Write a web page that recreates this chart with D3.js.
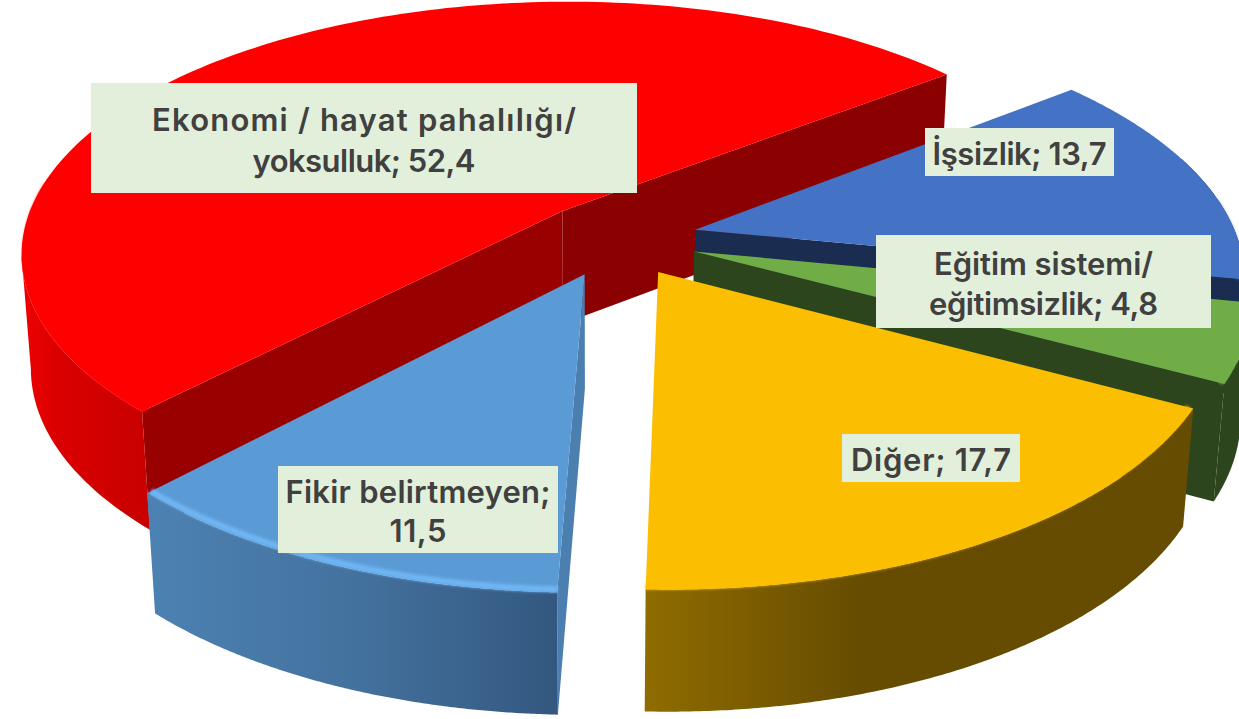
<!DOCTYPE html>
<html><head><meta charset="utf-8">
<script src="https://cdn.jsdelivr.net/npm/d3@7/dist/d3.min.js"></script>
<style>html,body{margin:0;padding:0;background:#fff;overflow:hidden}svg{display:block}</style>
</head><body><div id="chart"></div>
<script>
const categories = ["Ekonomi / hayat pahalılığı/ yoksulluk","İşsizlik","Eğitim sistemi/ eğitimsizlik","Diğer","Fikir belirtmeyen"];
const values = [52.4,13.7,4.8,17.7,11.5];
const valueLabels = ["52,4","13,7","4,8","17,7","11,5"];
const labelLines = [
  ["Ekonomi / hayat pahalılığı/","yoksulluk; 52,4"],
  ["İşsizlik; 13,7"],
  ["Eğitim sistemi/","eğitimsizlik; 4,8"],
  ["Diğer; 17,7"],
  ["Fikir belirtmeyen;","11,5"]
];
const W=1239,H=719;
// styles / layout
const topColors=["#FF0000","#4472C4","#70AD47","#FBBE00","#5B9BD5"];
const rimColors=["#FF0606","#4472C4","#70AD47","#FBBE00","#70B6F4"];
const startFace=["#990000",null,null,null,"#4A7FB0"];
const endFace=["#8B0000","#1A2C50","#2C451C",null,null];
const wallStops=[
 [[17,"#F00000"],[60,"#DA0000"],[150,"#C80000"]],
 [[700,"#1A2C50"],[1239,"#1A2C50"]],
 [[1190,"#2C451C"],[1239,"#2C451C"]],
 [[648,"#8F6C00"],[860,"#664C00"],[1195,"#664C00"]],
 [[147,"#4C82B2"],[350,"#44729F"],[558,"#33587F"]]
];
const boxes=[[91,83,637,193],[925,128,1114,176],[876,235,1211,328],[842,434,1020,482],[278,466,558,553]];
const baselines=[[131,172],[165],[275,315],[471],[503,542]];
const lineWidths=[[424,223],[174],[219,229],[160],[265,57]];

const explode=0.15, origin={x:0.025,y:-0.084}, startDeg=223.4, camX=603;
const depth=0.01622, vp=[595,7300];
const sxScale=d3.scaleLinear().domain([-1,1]).range([camX-550,camX+550]);
const w=Y=>1/(1-0.168*Y);
const syScale=d3.scaleLinear().domain([0,1]).range([-1285,260]);
function project(X,Y,z){
  const k=w(Y);
  const px=camX+(sxScale(X)-camX)*k, py=syScale(k);
  const t=z*Math.pow(k,0.6);
  return [px+(vp[0]-px)*t, py+(vp[1]-py)*t];
}
const pie=d3.pie().sort(null).startAngle(startDeg*Math.PI/180).endAngle((startDeg+360)*Math.PI/180);
const arcs=pie(values);
const line=d3.line();
const svg=d3.select("#chart").append("svg").attr("width",W).attr("height",H).attr("viewBox",`0 0 ${W} ${H}`);
const defs=svg.append("defs");
const f=defs.append("filter").attr("id","soft").attr("x","-5%").attr("y","-5%").attr("width","110%").attr("height","110%");
f.append("feGaussianBlur").attr("stdDeviation",1.8);
wallStops.forEach((st,i)=>{
  const g=defs.append("linearGradient").attr("id","wall"+i).attr("gradientUnits","userSpaceOnUse")
    .attr("x1",st[0][0]).attr("x2",st[st.length-1][0]).attr("y1",0).attr("y2",0);
  st.forEach(s=>g.append("stop").attr("offset",(s[0]-st[0][0])/(st[st.length-1][0]-st[0][0])).attr("stop-color",s[1]));
});
const order=[0,1,2,4,3];
order.forEach(i=>{
  const a=arcs[i], mid=(a.startAngle+a.endAngle)/2;
  const cx=origin.x+explode*Math.sin(mid), cy=origin.y-explode*Math.cos(mid);
  const pt=(ang,r,z)=>project(cx+r*Math.sin(ang),cy-r*Math.cos(ang),z);
  const angs=d3.range(0,161).map(t=>a.startAngle+(a.endAngle-a.startAngle)*t/160);
  const g=svg.append("g").attr("class","slice").attr("data-cat",categories[i]).attr("data-val",valueLabels[i]);
  const topArc=angs.map(t=>pt(t,1,0));
  let front=angs.filter(t=>Math.cos(t)<0.3);
  const iMin=d3.leastIndex(front,(p,q)=>pt(p,1,0)[0]-pt(q,1,0)[0]);
  const iMax=d3.greatestIndex(front,t=>pt(t,1,0)[0]);
  front=front.slice(Math.min(iMin,iMax),Math.max(iMin,iMax)+1);
  const wallTop=front.map(t=>pt(t,1,0)), wallBot=front.map(t=>pt(t,1,depth));
  const face=(ang,c)=>{ if(c) g.append("path").attr("d",line([pt(0,0,0),pt(ang,1,0),pt(ang,1,depth),pt(0,0,depth)])+"Z").attr("fill",c); };
  face(a.startAngle,startFace[i]);
  face(a.endAngle,endFace[i]);
  g.append("path").attr("d",line(wallTop.concat(wallBot.slice().reverse()))+"Z").attr("fill",`url(#wall${i})`);
  g.append("path").attr("d",line([pt(0,0,0)].concat(topArc))+"Z").attr("fill",topColors[i]);
  const rim=angs.filter(t=>Math.cos(t)<0.12).map(t=>pt(t,0.992,0));
  if(rim.length>1) g.append("path").attr("d",line(rim)).attr("fill","none").attr("stroke",rimColors[i]).attr("stroke-width",6).attr("filter","url(#soft)");
});
const lab=svg.append("g");
labelLines.forEach((ls,i)=>{
  const b=boxes[i];
  lab.append("rect").attr("x",b[0]).attr("y",b[1]).attr("width",b[2]-b[0]).attr("height",b[3]-b[1]).attr("fill","#E2EFDA");
  ls.forEach((t,j)=>lab.append("text").attr("x",(b[0]+b[2])/2).attr("y",baselines[i][j]).attr("text-anchor","middle")
    .attr("textLength",lineWidths[i][j]).attr("lengthAdjust","spacing")
    .attr("font-family","Inter, Lato, sans-serif").attr("font-weight",600).attr("font-size",31).attr("fill","#404040").text(t));
});
</script></body></html>
